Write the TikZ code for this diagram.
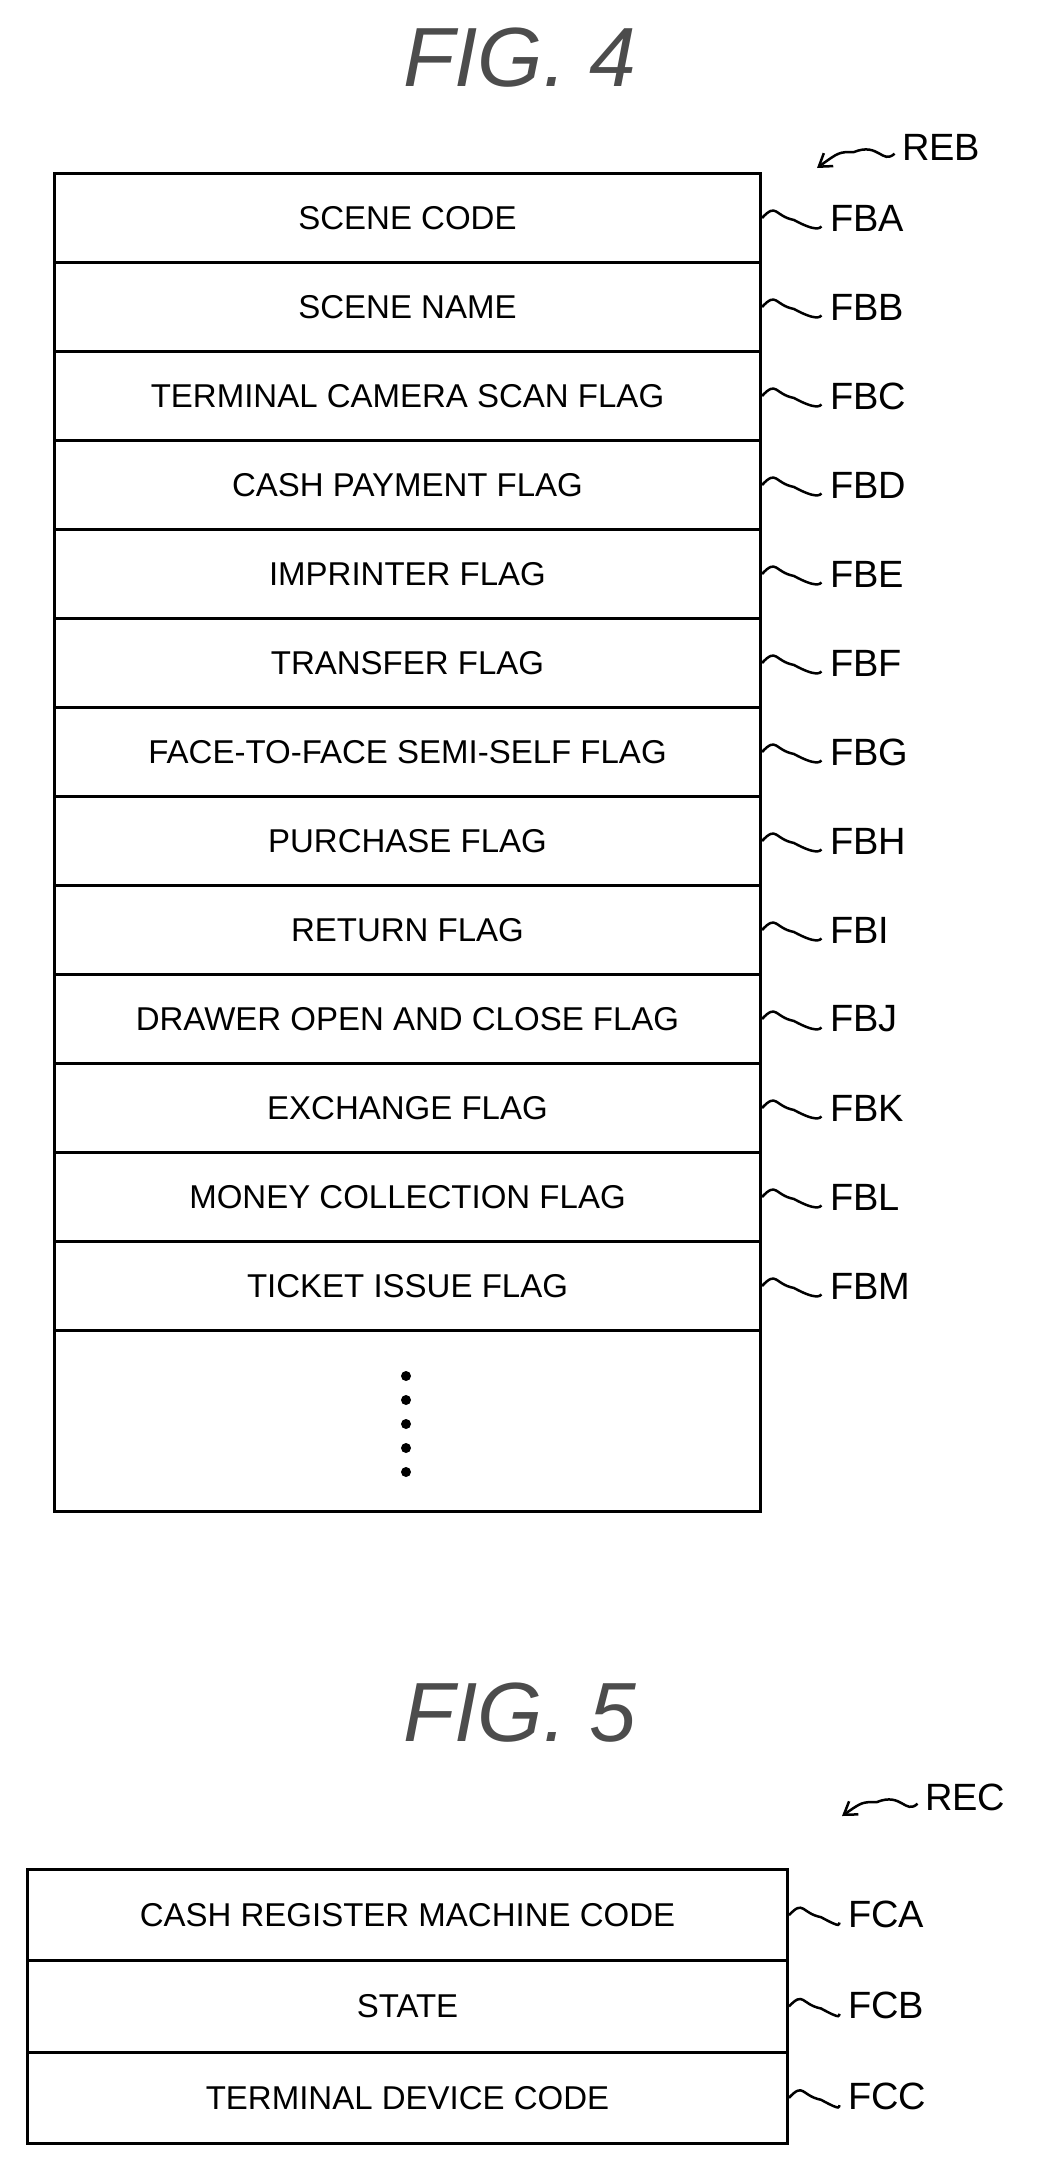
\documentclass[tikz,border=0pt]{standalone}
\usepackage{fontspec}
\setmainfont{Liberation Sans}
\usetikzlibrary{arrows.meta}
\begin{document}
\begin{tikzpicture}[x=1pt,y=-1pt,
 row/.style={draw,line width=3pt,minimum height=89pt,inner sep=0pt,font=\fontsize{33}{36}\selectfont,anchor=north west},
 lab/.style={font=\fontsize{38}{42}\selectfont,anchor=west,inner sep=0pt},
 title/.style={font=\itshape\fontsize{84}{90}\selectfont,text=black!70},
 wave/.style={line width=2.5pt,shorten >=12pt},
 arr/.style={line width=2.5pt,shorten <=10pt,-{Straight Barb[length=12pt,width=16pt]}}]
\useasboundingbox (0,0) rectangle (1040,2160);
\node[title] (t4) at (520,58) {FIG. 4};
\def\rh{89}
\foreach \t/\l [count=\i from 0] in {SCENE CODE/FBA,SCENE NAME/FBB,TERMINAL CAMERA SCAN FLAG/FBC,CASH PAYMENT FLAG/FBD,IMPRINTER FLAG/FBE,TRANSFER FLAG/FBF,FACE-TO-FACE SEMI-SELF FLAG/FBG,PURCHASE FLAG/FBH,RETURN FLAG/FBI,DRAWER OPEN AND CLOSE FLAG/FBJ,EXCHANGE FLAG/FBK,MONEY COLLECTION FLAG/FBL,TICKET ISSUE FLAG/FBM}{
 \node[row,minimum width=706pt] (r\i) at (53,172+\i*\rh) {\t};
 \node[lab] (l\i) at (830,172+\i*\rh+46) {\l};
 \draw[wave] (r\i.east) .. controls ++(15,-16) and ++(-20,-4) .. ++(32,2) .. controls ++(22,12) and ++(-10,10) .. (l\i.west);
}
\node[row,minimum width=706pt,minimum height=181pt] (rd) at (53,172+13*\rh) {};
\foreach \k in {0,...,4}{\fill (406,1376+\k*24) circle (5pt);}
\node[lab] (reb) at (902,147) {REB};
\draw[arr] (reb.west) .. controls ++(-20,18) and ++(25,-10) .. ++(-48,5) .. controls ++(-15,0) .. (817,168);
\node[title] (t5) at (520,1713) {FIG. 5};
\def\rr{91.3}
\foreach \t/\l [count=\i from 0] in {CASH REGISTER MACHINE CODE/FCA,STATE/FCB,TERMINAL DEVICE CODE/FCC}{
 \node[row,minimum width=760pt,minimum height=\rr pt] (s\i) at (26,1868+\i*\rr) {\t};
 \node[lab] (m\i) at (848,1868+\i*\rr+46) {\l};
 \draw[wave] (s\i.east) .. controls ++(15,-16) and ++(-20,-4) .. ++(32,2) .. controls ++(22,12) and ++(-10,10) .. (m\i.west);
}
\node[lab] (rec) at (925,1797) {REC};
\draw[arr] (rec.west) .. controls ++(-20,18) and ++(25,-10) .. ++(-48,5) .. controls ++(-15,0) .. (842,1816);
\end{tikzpicture}
\end{document}
